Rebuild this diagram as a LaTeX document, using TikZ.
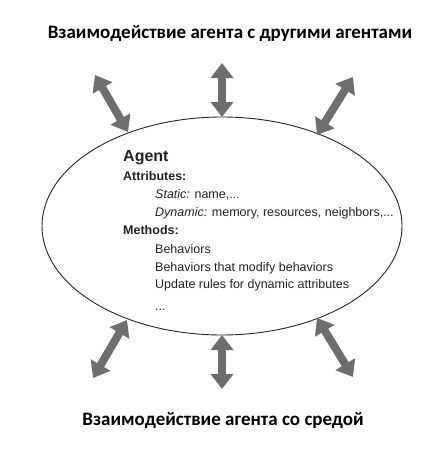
\documentclass[tikz,border=0pt]{standalone}
\usepackage{fontspec}
\setmainfont{Liberation Sans}
\newfontfamily\titlefont{Carlito}
\usetikzlibrary{arrows.meta,shapes.geometric}
\definecolor{arrowgray}{HTML}{6E6E6E}
\definecolor{txt}{HTML}{222222}
\tikzset{
  biarrow/.style={draw=arrowgray, line width=8pt,
    {Triangle[length=15pt,width=22pt]}-{Triangle[length=15pt,width=22pt]}},
  titletext/.style={font=\titlefont\bfseries\fontsize{19}{22}\selectfont, anchor=base, inner sep=0pt},
  maintext/.style={font=\fontsize{12.5}{15}\selectfont, text=txt, anchor=base west, inner sep=0pt},
  headtext/.style={font=\bfseries\fontsize{12.5}{15}\selectfont, text=txt, anchor=base west, inner sep=0pt},
}
\begin{document}
\begin{tikzpicture}[x=1pt,y=-1pt]
\useasboundingbox (0,0) rectangle (443,450);
\node[draw=black!85, line width=0.9pt, ellipse, minimum width=360pt, minimum height=218pt, inner sep=0pt] (agent) at (222,226) {};
% text
\node[headtext, font=\bfseries\fontsize{16}{19}\selectfont] (tagent) at (123,161) {Agent};
\node[headtext] (tattr) at (123,180) {Attributes:};
\node[maintext] (tstatic) at (155,198) {\textit{Static:} name,...};
\node[maintext] (tdyn) at (155,216) {\textit{Dynamic:} memory, resources, neighbors,...};
\node[headtext] (tmeth) at (123,234) {Methods:};
\node[maintext] (tb1) at (155,253) {Behaviors};
\node[maintext] (tb2) at (155,271) {Behaviors that modify behaviors};
\node[maintext] (tb3) at (155,288) {Update rules for dynamic attributes};
\node[maintext] (tb4) at (155,310) {...};
% titles
\node[titletext] (top) at (230,38) {Взаимодействие агента с другими агентами};
\node[titletext] (bottom) at (223,425) {Взаимодействие агента со средой};
% arrow ends
\coordinate (tl) at (95,75);   \coordinate (tle) at (128,132);
\coordinate (tm) at (222,63);  \coordinate (tme) at (222,117);
\coordinate (tr) at (353,77);  \coordinate (tre) at (317,135);
\coordinate (bl) at (93,378);  \coordinate (ble) at (127,320);
\coordinate (bm) at (222,389); \coordinate (bme) at (222,335);
\coordinate (br) at (353,377); \coordinate (bre) at (317,318);
\draw[biarrow] (tl) -- (tle);
\draw[biarrow] (tm) -- (tme);
\draw[biarrow] (tr) -- (tre);
\draw[biarrow] (bl) -- (ble);
\draw[biarrow] (bm) -- (bme);
\draw[biarrow] (br) -- (bre);
\end{tikzpicture}
\end{document}
